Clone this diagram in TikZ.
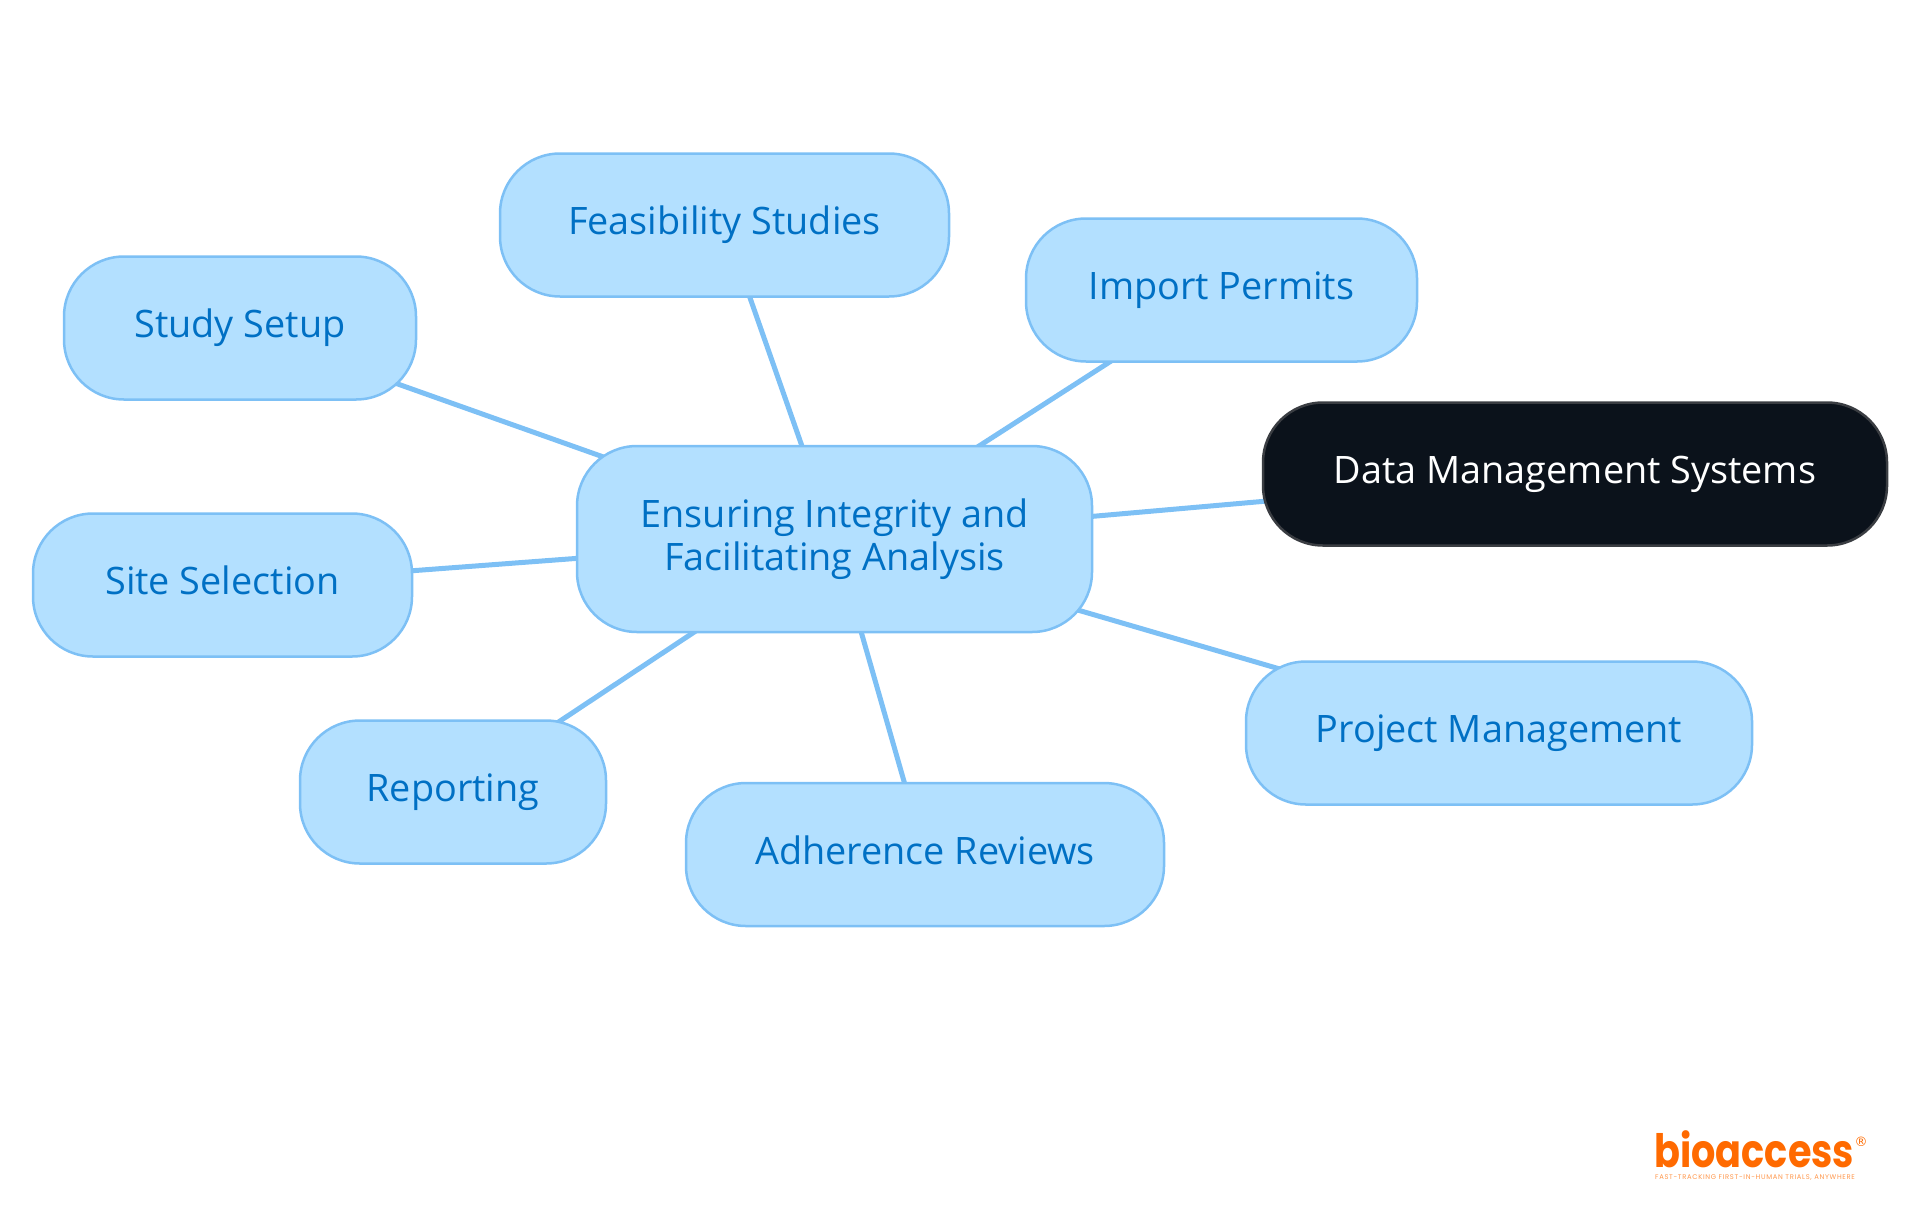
\documentclass[tikz,border=0pt]{standalone}
\usepackage{fontspec}
\usepackage{graphicx}
\setmainfont{Open Sans}
\newfontfamily\logofont{Poppins}
\newfontfamily\markfont{DejaVu Sans}
\usetikzlibrary{backgrounds}
\definecolor{mapfill}{HTML}{B3E0FF}
\definecolor{mapline}{HTML}{7DC0F5}
\definecolor{maptext}{HTML}{0070C4}
\definecolor{darkfill}{HTML}{0B121B}
\definecolor{darkline}{HTML}{3A3D42}
\definecolor{logoorange}{HTML}{FF6A00}
\tikzset{
  mapnode/.style={draw=mapline, fill=mapfill, text=maptext, line width=1.25pt,
    rounded corners=30pt, minimum height=71.5pt, inner sep=0pt, align=center,
    text height=13.5pt, text depth=4pt,
    font=\fontsize{18.9}{21.5}\selectfont},
  mainnode/.style={mapnode, text height=, text depth=, minimum height=93pt},
  darknode/.style={mapnode, draw=darkline, fill=darkfill, text=white},
  mapedge/.style={draw=mapline, line width=2.5pt}
}
\begin{document}
\begin{tikzpicture}[x=0.5pt,y=-0.5pt]
\useasboundingbox (0,0) rectangle (1920,1215);

\node [mainnode, minimum width=257.5pt] (center) at (834.5,539) {Ensuring Integrity and\\Facilitating Analysis};
\node [mapnode, minimum width=224.5pt] (feasibility) at (724.5,225) {Feasibility Studies};
\node [mapnode, minimum width=195.5pt] (permits) at (1221.5,290) {Import Permits};
\node [mapnode, minimum width=176pt] (setup) at (240,328) {Study Setup};
\node [mapnode, minimum width=189.5pt] (site) at (222.5,585) {Site Selection};
\node [mapnode, minimum width=153pt] (reporting) at (453,792) {Reporting};
\node [mapnode, minimum width=239pt] (adherence) at (925,854.5) {Adherence Reviews};
\node [mapnode, minimum width=253pt] (project) at (1499,733) {Project Management};
\node [darknode, minimum width=312pt] (data) at (1575,474) {Data Management Systems};

\begin{scope}[on background layer]
\draw [mapedge] (center.center) -- (feasibility.center);
\draw [mapedge] (center.center) -- (permits.center);
\draw [mapedge] (center.center) -- (setup.center);
\draw [mapedge] (center.center) -- (site.center);
\draw [mapedge] (center.center) -- (reporting.center);
\draw [mapedge] (center.center) -- (adherence.center);
\draw [mapedge] (center.center) -- (project.center);
\draw [mapedge] (center.center) -- (data.center);
\end{scope}

\node [text=logoorange, inner sep=0pt, anchor=base west, font=\logofont\bfseries\fontsize{23}{23}\selectfont] (logo) at (1654,1167) {\scalebox{0.83}[1]{bioaccess}};
\node [text=logoorange, inner sep=0pt, anchor=center, font=\markfont\fontsize{6.5}{7}\selectfont] (mark) at (1861,1142) {®};
\node [text=logoorange!70, inner sep=0pt, anchor=center, font=\logofont\fontsize{3.4}{4}\selectfont] (tagline) at (1755,1178) {\addfontfeatures{LetterSpace=10}FAST-TRACKING FIRST-IN-HUMAN TRIALS, ANYWHERE};
\end{tikzpicture}
\end{document}
